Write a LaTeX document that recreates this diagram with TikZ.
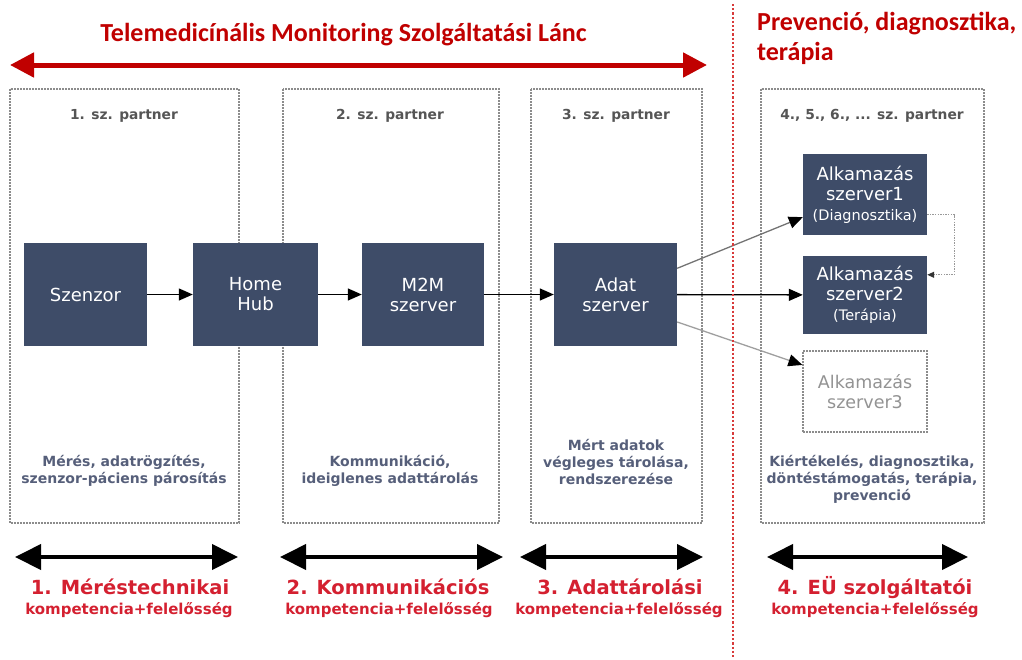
\documentclass[tikz,border=0pt]{standalone}
\usepackage{fontspec}
\setmainfont{DejaVu Sans}
\newfontfamily\calfont{Carlito}
\usetikzlibrary{arrows.meta}

\definecolor{boxblue}{HTML}{3E4C68}
\definecolor{titlered}{HTML}{C00000}
\definecolor{labred}{HTML}{D42030}
\definecolor{desctext}{HTML}{565F7A}
\definecolor{hdrtext}{HTML}{555555}
\definecolor{framegray}{HTML}{8C8C8C}
\definecolor{sepred}{HTML}{D83A3A}

\newcommand{\fsz}[2]{\fontsize{#1}{#2}\selectfont}

\begin{document}
\begin{tikzpicture}[x=1pt,y=-1pt,
  partnerbox/.style={draw=framegray, line width=1.3pt, dash pattern=on 1.6pt off 1.4pt},
  darkbox/.style={fill=boxblue, text=white, align=center, inner sep=0pt,
    font=\fsz{18}{20}},
  ghostbox/.style={fill=white, draw=framegray, line width=1.2pt, dash pattern=on 1.6pt off 1.4pt,
    text=gray!85, align=center, inner sep=0pt, font=\fsz{17.5}{20}},
  hdr/.style={font=\bfseries\fsz{13.8}{16}, text=hdrtext, anchor=base},
  desc/.style={font=\bfseries\fsz{14}{17}, text=desctext, align=center},
  labbig/.style={font=\bfseries\fsz{19.5}{22}, text=labred, anchor=base},
  labsmall/.style={font=\bfseries\fsz{15}{17}, text=labred, anchor=base},
  flow/.style={line width=1.3pt, -{Triangle[length=14pt,width=12pt,color=black]}},
  span/.style={line width=4pt, {Triangle[length=26pt,width=25pt]}-{Triangle[length=26pt,width=25pt]}},
  chain/.style={line width=5pt, titlered, {Triangle[length=24pt,width=24pt]}-{Triangle[length=24pt,width=24pt]}},
]
\useasboundingbox (0,0) rectangle (1022,659);

% partner frames
\draw[partnerbox] (10,89) rectangle (239,523);
\draw[partnerbox] (283,89) rectangle (499,523);
\draw[partnerbox] (531,89) rectangle (702,523);
\draw[partnerbox] (761,89) rectangle (984,523);

% headings
\node[font=\calfont\bfseries\fsz{26}{30}, text=titlered, anchor=base] (title) at (343.5,41)
  {Telemedicínális Monitoring Szolgáltatási Lánc};
\node[font=\calfont\bfseries\fsz{26}{30}, text=titlered, anchor=base west, inner sep=0pt] (prev1) at (757,30)
  {Prevenció, diagnosztika,};
\node[font=\calfont\bfseries\fsz{26}{30}, text=titlered, anchor=base west, inner sep=0pt] (prev2) at (757,60)
  {terápia};

\coordinate (chainL) at (10,65);
\coordinate (chainR) at (707,65);
\draw[chain] (chainL) -- (chainR);

% partner headings
\node[hdr] (h1) at (124,119) {1. sz. partner};
\node[hdr] (h2) at (390,119) {2. sz. partner};
\node[hdr] (h3) at (616,119) {3. sz. partner};
\node[hdr] (h4) at (872,119) {4., 5., 6., ... sz. partner};

% processing blocks
\node[darkbox, minimum width=123pt, minimum height=103pt] (szenzor) at (85.5,294.5) {Szenzor};
\node[darkbox, minimum width=125pt, minimum height=103pt] (hub) at (255.5,294.5) {Home\\Hub};
\node[darkbox, minimum width=122pt, minimum height=103pt] (m2m) at (423,294.5) {M2M\\szerver};
\node[darkbox, minimum width=123pt, minimum height=103pt] (adat) at (615.5,294.5) {Adat\\szerver};
\node[darkbox, minimum width=124pt, minimum height=81pt] (s1) at (865,194.5)
  {Alkamazás\\szerver1\\{\fsz{14.5}{19}(Diagnosztika)}};
\node[darkbox, minimum width=124pt, minimum height=78pt] (s2) at (865,295)
  {Alkamazás\\szerver2\\{\fsz{14.5}{19}(Terápia)}};
\node[ghostbox, minimum width=124pt, minimum height=81pt] (s3) at (865,391.5)
  {Alkamazás\\szerver3};

% data flow
\draw[flow] (szenzor) -- (hub);
\draw[flow] (hub) -- (m2m);
\draw[flow] (m2m) -- (adat);
\draw[flow] (adat) -- (s2);
\draw[flow, gray!90!black] (adat.23) -- (s1.200);
\draw[flow, gray!75] (adat.-24) -- (s3.157);
\draw[line width=1.1pt, gray!80, dash pattern=on 1.4pt off 1.2pt, -{Triangle[length=7pt,width=6pt,color=black!80]}]
  (s1.-18) -- ++(27,0) |- (s2.18);

% descriptions
\node[desc] (d1) at (124,471) {Mérés, adatrögzítés,\\szenzor-páciens párosítás};
\node[desc] (d2) at (390,471) {Kommunikáció,\\ideiglenes adattárolás};
\node[desc] (d3) at (616,462) {Mért adatok\\végleges tárolása,\\rendszerezése};
\node[desc] (d4) at (872,479) {Kiértékelés, diagnosztika,\\döntéstámogatás, terápia,\\prevenció};

% competence spans
\coordinate (a1l) at (15,557);  \coordinate (a1r) at (238,557);
\coordinate (a2l) at (280,557); \coordinate (a2r) at (503,557);
\coordinate (a3l) at (520,557); \coordinate (a3r) at (703,557);
\coordinate (a4l) at (767,557); \coordinate (a4r) at (968,557);
\draw[span] (a1l) -- (a1r);
\draw[span] (a2l) -- (a2r);
\draw[span] (a3l) -- (a3r);
\draw[span] (a4l) -- (a4r);

\node[labbig] (l1) at (130,594) {1. Méréstechnikai};
\node[labsmall] (k1) at (129,614) {kompetencia+felelősség};
\node[labbig] (l2) at (388,594) {2. Kommunikációs};
\node[labsmall] (k2) at (389,614) {kompetencia+felelősség};
\node[labbig] (l3) at (620,594) {3. Adattárolási};
\node[labsmall] (k3) at (619,614) {kompetencia+felelősség};
\node[labbig] (l4) at (875,594) {4. EÜ szolgáltatói};
\node[labsmall] (k4) at (875,614) {kompetencia+felelősség};

% boundary of the service chain
\coordinate (sepT) at (733,4);
\coordinate (sepB) at (733,659);
\draw[sepred, line width=1.1pt, dash pattern=on 2.2pt off 2pt] (sepT) -- (sepB);
\end{tikzpicture}
\end{document}
